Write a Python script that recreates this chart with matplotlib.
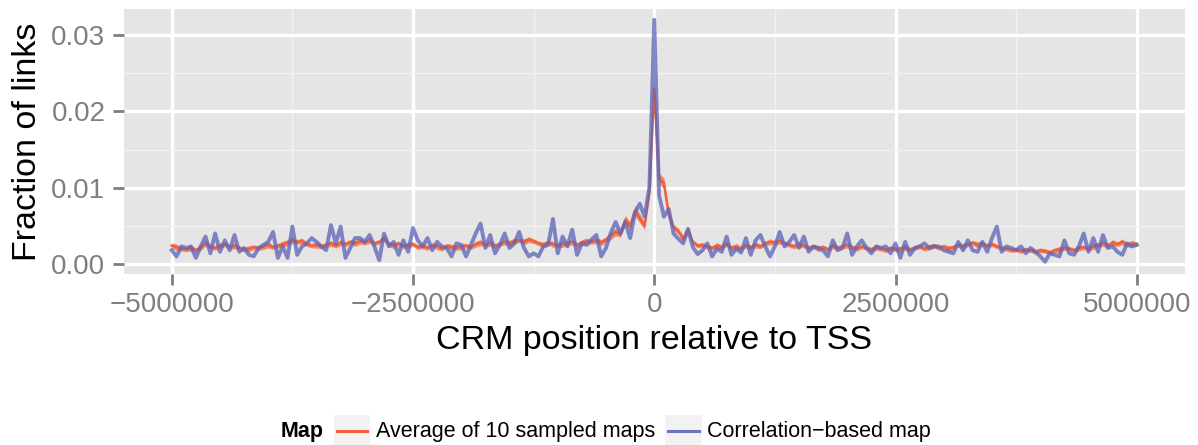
import numpy as np
import matplotlib
matplotlib.use("Agg")
import matplotlib.pyplot as plt
from matplotlib.lines import Line2D
from matplotlib.patches import Rectangle

plt.rcParams["font.family"] = ["Liberation Sans", "DejaVu Sans"]

# CRM positions binned every 50 kb around the TSS
bin_width = 50000
positions = np.arange(-5_000_000, 5_000_001, bin_width)

# Mean fraction of links over the 10 sampled maps
sampled_mean = [
    0.0024, 0.0022, 0.0020, 0.0019, 0.0021, 0.0018, 0.0022, 0.0027, 0.0023, 0.0021,
    0.0024, 0.0026, 0.0022, 0.0024, 0.0021, 0.0019, 0.0020, 0.0022, 0.0021, 0.0023,
    0.0025, 0.0022, 0.0024, 0.0026, 0.0028, 0.0031, 0.0029, 0.0030, 0.0026, 0.0024,
    0.0025, 0.0023, 0.0025, 0.0027, 0.0024, 0.0028, 0.0026, 0.0029, 0.0027, 0.0030,
    0.0028, 0.0031, 0.0027, 0.0029, 0.0034, 0.0026, 0.0024, 0.0027, 0.0023, 0.0025,
    0.0026, 0.0022, 0.0024, 0.0021, 0.0025, 0.0023, 0.0020, 0.0024, 0.0022, 0.0021,
    0.0023, 0.0024, 0.0022, 0.0026, 0.0028, 0.0025, 0.0027, 0.0024, 0.0026, 0.0029,
    0.0027, 0.0030, 0.0031, 0.0029, 0.0032, 0.0030, 0.0027, 0.0025, 0.0028, 0.0026,
    0.0024, 0.0026, 0.0027, 0.0029, 0.0025, 0.0028, 0.0030, 0.0029, 0.0031, 0.0028,
    0.0032, 0.0037, 0.0042, 0.0039, 0.0058, 0.0050, 0.0070, 0.0060, 0.0050, 0.0095,
    0.0230, 0.0112, 0.0106, 0.0065, 0.0048, 0.0043, 0.0033, 0.0045, 0.0029, 0.0024,
    0.0025, 0.0023, 0.0021, 0.0024, 0.0022, 0.0026, 0.0021, 0.0023, 0.0020, 0.0024,
    0.0022, 0.0025, 0.0023, 0.0027, 0.0029, 0.0028, 0.0030, 0.0027, 0.0025, 0.0023,
    0.0026, 0.0024, 0.0021, 0.0023, 0.0020, 0.0022, 0.0019, 0.0024, 0.0021, 0.0023,
    0.0025, 0.0022, 0.0020, 0.0023, 0.0021, 0.0019, 0.0022, 0.0020, 0.0018, 0.0021,
    0.0019, 0.0020, 0.0022, 0.0019, 0.0021, 0.0023, 0.0020, 0.0022, 0.0024, 0.0021,
    0.0023, 0.0020, 0.0022, 0.0025, 0.0023, 0.0026, 0.0028, 0.0025, 0.0027, 0.0024,
    0.0026, 0.0023, 0.0021, 0.0020, 0.0018, 0.0019, 0.0017, 0.0019, 0.0018, 0.0016,
    0.0018, 0.0017, 0.0015, 0.0018, 0.0019, 0.0021, 0.0020, 0.0018, 0.0021, 0.0022,
    0.0020, 0.0023, 0.0025, 0.0027, 0.0024, 0.0028, 0.0026, 0.0029, 0.0025, 0.0027,
    0.0026,
]

# Half-width of the band around the sampled-map mean
sampled_spread = [
    0.0004, 0.0004, 0.0003, 0.0003, 0.0004, 0.0003, 0.0004, 0.0004, 0.0003, 0.0003,
    0.0004, 0.0003, 0.0003, 0.0004, 0.0003, 0.0003, 0.0004, 0.0003, 0.0003, 0.0004,
    0.0004, 0.0003, 0.0003, 0.0004, 0.0004, 0.0004, 0.0003, 0.0004, 0.0003, 0.0003,
    0.0004, 0.0003, 0.0003, 0.0004, 0.0003, 0.0004, 0.0003, 0.0003, 0.0004, 0.0004,
    0.0003, 0.0004, 0.0003, 0.0003, 0.0004, 0.0003, 0.0004, 0.0003, 0.0003, 0.0004,
    0.0003, 0.0003, 0.0004, 0.0003, 0.0003, 0.0004, 0.0003, 0.0003, 0.0004, 0.0003,
    0.0004, 0.0003, 0.0003, 0.0004, 0.0004, 0.0003, 0.0004, 0.0003, 0.0003, 0.0004,
    0.0004, 0.0004, 0.0003, 0.0004, 0.0004, 0.0003, 0.0003, 0.0004, 0.0003, 0.0004,
    0.0003, 0.0004, 0.0003, 0.0004, 0.0003, 0.0004, 0.0004, 0.0003, 0.0004, 0.0004,
    0.0004, 0.0005, 0.0005, 0.0004, 0.0006, 0.0005, 0.0007, 0.0006, 0.0005, 0.0006,
    0.0009, 0.0007, 0.0007, 0.0005, 0.0004, 0.0004, 0.0004, 0.0004, 0.0003, 0.0003,
    0.0003, 0.0003, 0.0003, 0.0004, 0.0003, 0.0003, 0.0003, 0.0004, 0.0003, 0.0003,
    0.0003, 0.0004, 0.0003, 0.0003, 0.0004, 0.0003, 0.0004, 0.0003, 0.0003, 0.0003,
    0.0004, 0.0003, 0.0003, 0.0003, 0.0004, 0.0003, 0.0003, 0.0004, 0.0003, 0.0003,
    0.0004, 0.0003, 0.0003, 0.0003, 0.0003, 0.0003, 0.0004, 0.0003, 0.0003, 0.0003,
    0.0003, 0.0003, 0.0004, 0.0003, 0.0003, 0.0003, 0.0003, 0.0004, 0.0003, 0.0003,
    0.0003, 0.0004, 0.0003, 0.0003, 0.0004, 0.0003, 0.0003, 0.0004, 0.0003, 0.0003,
    0.0003, 0.0003, 0.0003, 0.0003, 0.0003, 0.0003, 0.0003, 0.0003, 0.0003, 0.0003,
    0.0003, 0.0003, 0.0003, 0.0003, 0.0004, 0.0003, 0.0003, 0.0003, 0.0004, 0.0003,
    0.0003, 0.0004, 0.0003, 0.0004, 0.0003, 0.0004, 0.0003, 0.0004, 0.0003, 0.0004,
    0.0003,
]

# Fraction of links in the correlation-based map
correlation_map = [
    0.0018, 0.0010, 0.0023, 0.0021, 0.0023, 0.0008, 0.0023, 0.0036, 0.0014, 0.0040,
    0.0016, 0.0031, 0.0018, 0.0038, 0.0016, 0.0021, 0.0012, 0.0010, 0.0021, 0.0025,
    0.0029, 0.0042, 0.0008, 0.0023, 0.0008, 0.0049, 0.0012, 0.0023, 0.0027, 0.0034,
    0.0029, 0.0023, 0.0018, 0.0051, 0.0027, 0.0049, 0.0008, 0.0021, 0.0034, 0.0034,
    0.0029, 0.0038, 0.0023, 0.0005, 0.0040, 0.0023, 0.0029, 0.0012, 0.0031, 0.0016,
    0.0047, 0.0031, 0.0023, 0.0034, 0.0018, 0.0029, 0.0023, 0.0021, 0.0010, 0.0027,
    0.0025, 0.0010, 0.0025, 0.0040, 0.0053, 0.0021, 0.0038, 0.0014, 0.0025, 0.0040,
    0.0021, 0.0027, 0.0042, 0.0021, 0.0010, 0.0014, 0.0010, 0.0023, 0.0025, 0.0059,
    0.0014, 0.0036, 0.0023, 0.0045, 0.0012, 0.0027, 0.0025, 0.0032, 0.0038, 0.0010,
    0.0021, 0.0041, 0.0055, 0.0040, 0.0055, 0.0034, 0.0067, 0.0079, 0.0062, 0.0101,
    0.0320, 0.0090, 0.0062, 0.0072, 0.0040, 0.0033, 0.0027, 0.0046, 0.0022, 0.0013,
    0.0018, 0.0027, 0.0010, 0.0020, 0.0016, 0.0036, 0.0012, 0.0020, 0.0015, 0.0034,
    0.0012, 0.0031, 0.0038, 0.0023, 0.0010, 0.0023, 0.0042, 0.0023, 0.0029, 0.0038,
    0.0021, 0.0036, 0.0016, 0.0023, 0.0021, 0.0018, 0.0010, 0.0031, 0.0018, 0.0021,
    0.0040, 0.0012, 0.0023, 0.0031, 0.0021, 0.0014, 0.0023, 0.0021, 0.0023, 0.0014,
    0.0027, 0.0008, 0.0029, 0.0012, 0.0021, 0.0023, 0.0027, 0.0021, 0.0023, 0.0023,
    0.0018, 0.0016, 0.0014, 0.0029, 0.0018, 0.0031, 0.0018, 0.0016, 0.0029, 0.0016,
    0.0034, 0.0049, 0.0016, 0.0023, 0.0021, 0.0018, 0.0023, 0.0014, 0.0021, 0.0016,
    0.0010, 0.0003, 0.0014, 0.0012, 0.0010, 0.0031, 0.0014, 0.0012, 0.0023, 0.0040,
    0.0016, 0.0034, 0.0016, 0.0038, 0.0021, 0.0023, 0.0016, 0.0012, 0.0027, 0.0023,
    0.0025,
]

series_labels = ["Average of 10 sampled maps", "Correlation\u2212based map"]
legend_title = "Map"

x_ticks = [-5_000_000, -2_500_000, 0, 2_500_000, 5_000_000]
x_tick_labels = ["\u22125000000", "\u22122500000", "0", "2500000", "5000000"]
y_ticks = [0.00, 0.01, 0.02, 0.03]
y_tick_labels = ["0.00", "0.01", "0.02", "0.03"]

orange = "#F0603A"
orange_fill = "#F36D45"
blue = "#5F67B9"
panel_bg = "#E5E5E5"
tick_grey = "#7F7F7F"

W, H = 1198, 445
fig = plt.figure(figsize=(W / 100, H / 100), dpi=100)
fig.patch.set_facecolor("white")
ax = fig.add_axes([123.5 / W, 1 - 274 / H, (1185 - 123.5) / W, (274 - 9) / H])
ax.set_facecolor(panel_bg)

mean = np.array(sampled_mean)
spread = np.array(sampled_spread)
ax.fill_between(positions, mean - spread, mean + spread, color=orange_fill,
                alpha=0.75, linewidth=0, zorder=3)
ax.plot(positions, mean, color=orange, lw=1.8, zorder=4)
ax.plot(positions, correlation_map, color=blue, lw=2.8, alpha=0.78, zorder=5,
        solid_joinstyle="round")

ax.set_xlim(-5_500_000, 5_500_000)
ax.set_ylim(-0.00131, 0.03341)

ax.set_xticks(x_ticks)
ax.set_xticklabels(x_tick_labels)
ax.set_yticks(y_ticks)
ax.set_yticklabels(y_tick_labels)
ax.set_xticks([-3_750_000, -1_250_000, 1_250_000, 3_750_000], minor=True)
ax.set_yticks([0.005, 0.015, 0.025], minor=True)

ax.grid(which="major", color="white", lw=2.4, zorder=1)
ax.grid(which="minor", color="#F2F2F2", lw=1.0, zorder=1)
ax.set_axisbelow(True)
for s in ax.spines.values():
    s.set_visible(False)

ax.tick_params(which="major", length=8, width=2, color=tick_grey,
               labelcolor=tick_grey, labelsize=20, pad=5)
ax.tick_params(which="minor", length=0)

ax.set_xlabel("CRM position relative to TSS", fontsize=24.5, color="black", labelpad=5)
ax.set_ylabel("Fraction of links", fontsize=24.5, color="black", labelpad=6)

# Legend along the bottom edge
def fx(px):
    return px / W

def fy(py):
    return 1 - py / H

cy = 431
fig.text(fx(281), fy(cy), legend_title, fontsize=15.5, fontweight="bold",
         va="center", ha="left")
keys = [(334, 370, 376), (665, 702, 707)]
for (k0, k1, tx), col, lab, a in zip(keys, [orange, blue], series_labels, [1.0, 0.9]):
    fig.add_artist(Rectangle((fx(k0), fy(446)), fx(k1 - k0), (446 - 415) / H,
                             transform=fig.transFigure, facecolor="#F2F2F2",
                             edgecolor="none"))
    fig.add_artist(Line2D([fx(k0 + 3), fx(k1 - 3)], [fy(cy), fy(cy)],
                          transform=fig.transFigure, color=col, lw=2.2, alpha=a))
    fig.text(fx(tx), fy(cy), lab, fontsize=15.5, va="center", ha="left")

fig.savefig("out.png", dpi=100, facecolor="white")
